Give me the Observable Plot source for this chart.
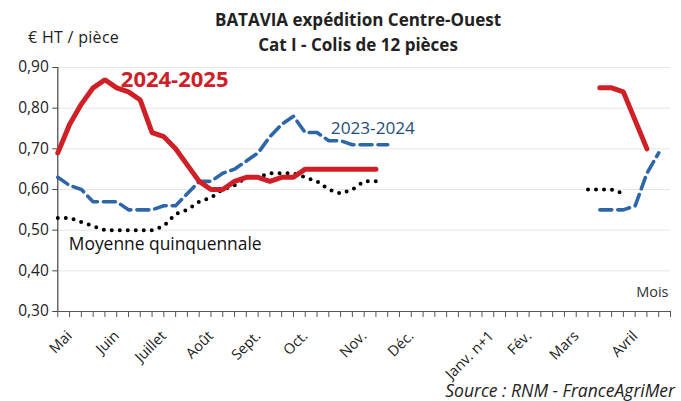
<!DOCTYPE html>
<html>
<head>
<meta charset="utf-8">
<script src="https://cdn.jsdelivr.net/npm/d3@7"></script>
<script src="https://cdn.jsdelivr.net/npm/@observablehq/plot@0.6"></script>
<style>
  body { margin: 0; background: #fff; font-family: "Open Sans", sans-serif; }
  #wrap { position: relative; width: 681px; height: 401px; overflow: hidden; }
  #chart { position: absolute; left: 0; top: 0; }
  .t { position: absolute; white-space: nowrap; color: #222; }
  #title { left: 0; width: 716px; top: 7px; text-align: center; font-weight: 700; font-size: 17px; line-height: 25px; }
  #unit { left: 28px; top: 26px; font-size: 16px; letter-spacing: 0.3px; }
  #source { right: 6px; top: 380px; font-size: 17.5px; line-height: 20px; font-style: italic; }
</style>
</head>
<body>
<div id="wrap">
  <div id="chart"></div>
  <div class="t" id="title">BATAVIA expédition Centre-Ouest<br>Cat I - Colis de 12 pièces</div>
  <div class="t" id="unit">€ HT / pièce</div>
  <div class="t" id="source">Source : RNM - FranceAgriMer</div>
</div>
<script>
// week index 0 = first week of May … 51 = last week of April
const serie2425 = [0.69,0.76,0.81,0.85,0.87,0.85,0.84,0.82,0.74,0.73,0.70,0.66,0.62,0.60,0.60,0.62,0.63,0.63,0.62,0.63,0.63,0.65,0.65,0.65,0.65,0.65,0.65,0.65,
  null,null,null,null,null,null,null,null,null,null,null,null,null,null,null,null,null,null,
  0.85,0.85,0.84,0.77,0.70,null];
const serie2324 = [0.63,0.61,0.60,0.57,0.57,0.57,0.55,0.55,0.55,0.56,0.56,0.59,0.62,0.62,0.64,0.65,0.67,0.69,0.73,0.76,0.78,0.74,0.74,0.72,0.72,0.71,0.71,0.71,0.71,
  null,null,null,null,null,null,null,null,null,null,null,null,null,null,null,null,null,
  0.55,0.55,0.55,0.56,0.64,0.69];
const moyenne5 = [0.53,0.53,0.52,0.51,0.50,0.50,0.50,0.50,0.50,0.51,0.54,0.55,0.57,0.58,0.60,0.61,0.63,0.63,0.64,0.64,0.64,0.63,0.62,0.60,0.59,0.60,0.62,0.62,
  null,null,null,null,null,null,null,null,null,null,null,null,null,null,null,null,null,
  0.60,0.60,0.60,0.59,null,null,null];
const monthLabels = ["Mai","Juin","Juillet","Août","Sept.","Oct.","Nov.","Déc.","Janv. n+1","Fév.","Mars","Avril"];
const monthPos = [1,5,9,13,17,21,26,30,36.8,40,44,49];
const yTicks = [0.3,0.4,0.5,0.6,0.7,0.8,0.9];
const seriesNames = ["2024-2025","2023-2024","Moyenne quinquennale"];

const toRows = (arr) => arr.map((v, i) => ({i, v}));
const fmt = (v) => v.toFixed(2).replace(".", ",");
const months = monthLabels.map((name, k) => ({name, pos: monthPos[k]}));

const plot = Plot.plot({
  width: 681,
  height: 401,
  marginLeft: 57.3,
  marginRight: 11,
  marginTop: 67,
  marginBottom: 90,
  style: {fontFamily: "Open Sans, sans-serif", fontSize: "15px", color: "#222", background: "transparent"},
  x: {domain: [0, 52], axis: null},
  y: {domain: [0.3, 0.9], axis: null},
  marks: [
    Plot.gridY(yTicks.slice(1), {stroke: "#e6e6e6", strokeOpacity: 1, strokeWidth: 1}),
    Plot.axisY(yTicks, {tickSize: 5, tickFormat: fmt, fontSize: 15.5, tickPadding: 4, stroke: "#444", color: "#222", label: null}),
    Plot.axisX(d3.range(0, 53), {tickSize: 6, tickFormat: () => "", stroke: "#555", label: null}),
    Plot.text(months, {x: "pos", y: () => 0.3, text: "name", rotate: -45, textAnchor: "end", lineAnchor: "middle", dx: 0, dy: 22, fontSize: 14.5, fill: "#222"}),
    Plot.ruleY([0.3], {stroke: "#555", strokeWidth: 1.2}),
    Plot.ruleX([0], {stroke: "#444", strokeWidth: 1.2}),
    Plot.line(toRows(moyenne5), {x: "i", y: "v", stroke: "#000", strokeWidth: 4, strokeDasharray: "0 8", strokeLinecap: "round", curve: "linear"}),
    Plot.line(toRows(serie2324), {x: "i", y: "v", stroke: "#2e67a8", strokeWidth: 3.6, strokeDasharray: "12 6", curve: "linear"}),
    Plot.line(toRows(serie2425), {x: "i", y: "v", stroke: "#d02027", strokeWidth: 5, strokeLinejoin: "miter", curve: "linear"}),
    Plot.text([seriesNames[0]], {frameAnchor: "top-left", dx: 63, dy: 4, text: d => d, fill: "#d02027", fontWeight: "bold", fontSize: 22, textAnchor: "start", letterSpacing: 0.3}),
    Plot.text([seriesNames[1]], {frameAnchor: "top-left", dx: 273, dy: 54, text: d => d, fill: "#1f4e79", fontSize: 17.2, textAnchor: "start"}),
    Plot.text([seriesNames[2]], {frameAnchor: "top-left", dx: 11, dy: 170, text: d => d, fill: "#111", fontSize: 17.4, textAnchor: "start"}),
    Plot.text(["Mois"], {frameAnchor: "bottom-right", dx: -2, dy: -15, text: d => d, fill: "#333", fontSize: 14.5, textAnchor: "end"})
  ]
});
document.getElementById("chart").appendChild(plot);
</script>
</body>
</html>
